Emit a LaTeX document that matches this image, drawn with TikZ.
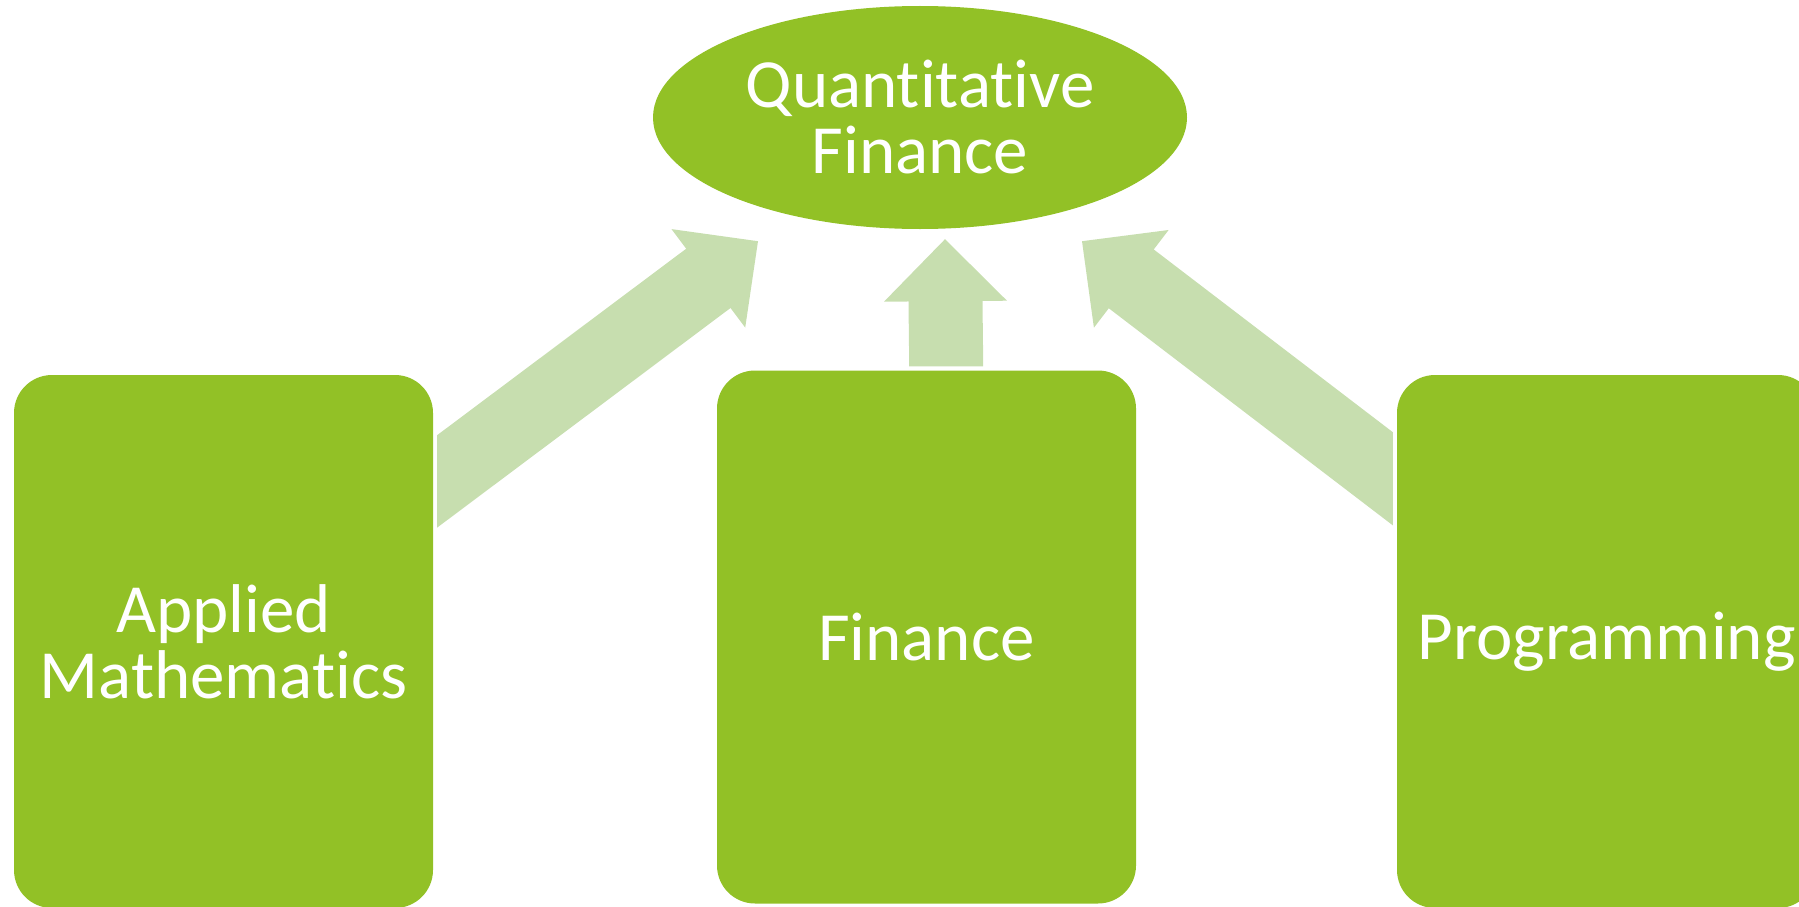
\documentclass[tikz,border=0pt]{standalone}
\usepackage{fontspec}
\setmainfont{Carlito}[Ligatures={NoCommon,NoContextual}]
\usetikzlibrary{shapes.geometric,calc}

\definecolor{boxgreen}{HTML}{92C126}
\definecolor{arrowgreen}{HTML}{C7DEAF}

\tikzset{
  topic/.style={fill=boxgreen,text=white,align=center,inner sep=0pt,
    font=\fontsize{69}{66}\selectfont},
  subject/.style={topic,rectangle,rounded corners=38pt,
    minimum width=419pt,minimum height=533pt},
  goal/.style={topic,ellipse,minimum width=534pt,minimum height=223pt},
  feed/.style={fill=arrowgreen}
}

% block arrow from #1 to #2, base cut along direction #3
\newcommand{\feedarrow}[3]{%
  \coordinate (hb) at ($(#2)!62pt!(#1)$);
  \coordinate (h1) at ($(hb)!37pt!90:(#2)$);
  \coordinate (h2) at ($(hb)!37pt!-90:(#2)$);
  \coordinate (w1) at ($(hb)!61.5pt!90:(#2)$);
  \coordinate (w2) at ($(hb)!61.5pt!-90:(#2)$);
  \coordinate (p1) at ($(#1)!37pt!90:(#2)$);
  \coordinate (p2) at ($(#1)!37pt!-90:(#2)$);
  \coordinate (v) at ($(#1)+#3$);
  \fill[feed] (intersection of h1--p1 and #1--v) -- (h1) -- (w1) -- (#2)
    -- (w2) -- (h2) -- (intersection of h2--p2 and #1--v) -- cycle;
}

\begin{document}
\begin{tikzpicture}[x=1pt,y=-1pt]
  \useasboundingbox (0,0) rectangle (1799,907);
  \clip (0,0) rectangle (1799,907);

  \node[goal] (qf) at (920,117.5) {Quantitative\\Finance};

  \begin{scope}[every node/.style={subject}]
    \node (am)   at (223.5,641.5) {Applied\\Mathematics};
    \node (fin)  at (926.5,637)   {Finance};
    \node (prog) at (1606.5,641.5) {Programming};
  \end{scope}

  \coordinate (amout)   at ($(am.north east)+(4,106.5)$);
  \coordinate (finout)  at ($(fin.north)+(19.5,-4)$);
  \coordinate (progout) at ($(prog.north west)+(-4,104)$);
  \coordinate (qfl) at ($(qf.south)+(-162,12)$);
  \coordinate (qfm) at ($(qf.south)+(25,10)$);
  \coordinate (qfr) at ($(qf.south)+(162,12)$);

  \feedarrow{amout}{qfl}{(0,10)}
  \feedarrow{finout}{qfm}{(10,0)}
  \feedarrow{progout}{qfr}{(0,10)}

\end{tikzpicture}
\end{document}
